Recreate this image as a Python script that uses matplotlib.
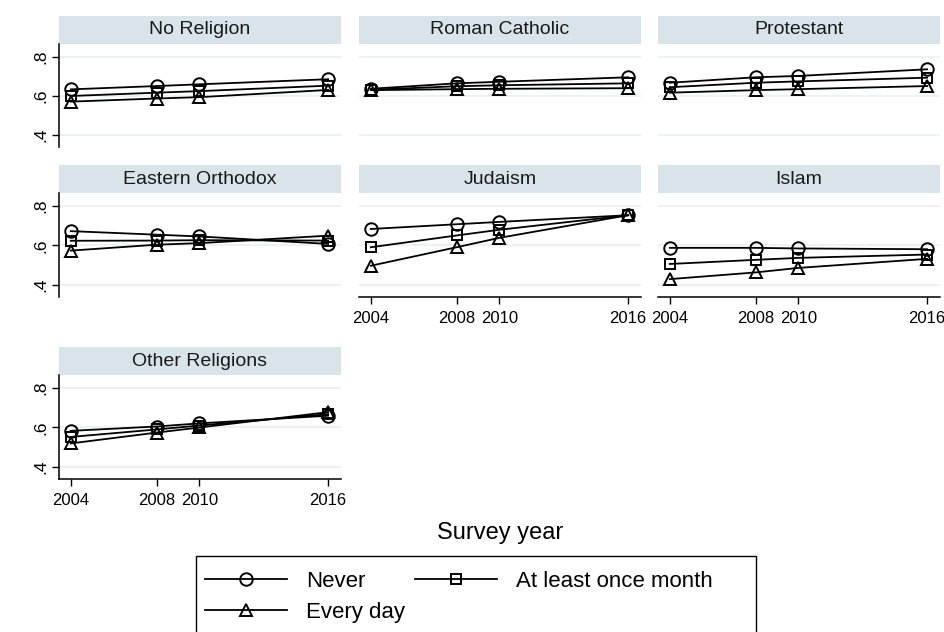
import matplotlib
matplotlib.use("Agg")
import matplotlib.pyplot as plt
from matplotlib.patches import Rectangle

plt.rcParams['font.family'] = ['Liberation Sans', 'DejaVu Sans']

# data
years = [2004, 2008, 2010, 2016]
religions = ["No Religion", "Roman Catholic", "Protestant",
             "Eastern Orthodox", "Judaism", "Islam", "Other Religions"]
series_names = ["Never", "At least once month", "Every day"]

never = {
    "No Religion":      [0.634, 0.651, 0.660, 0.686],
    "Roman Catholic":   [0.637, 0.665, 0.673, 0.696],
    "Protestant":       [0.668, 0.696, 0.703, 0.737],
    "Eastern Orthodox": [0.673, 0.655, 0.646, 0.608],
    "Judaism":          [0.684, 0.708, 0.720, 0.754],
    "Islam":            [0.588, 0.588, 0.585, 0.581],
    "Other Religions":  [0.583, 0.605, 0.621, 0.660],
}
month = {
    "No Religion":      [0.600, 0.617, 0.625, 0.653],
    "Roman Catholic":   [0.632, 0.650, 0.655, 0.665],
    "Protestant":       [0.645, 0.668, 0.675, 0.694],
    "Eastern Orthodox": [0.624, 0.625, 0.627, 0.625],
    "Judaism":          [0.591, 0.651, 0.680, 0.754],
    "Islam":            [0.506, 0.527, 0.537, 0.554],
    "Other Religions":  [0.552, 0.590, 0.610, 0.668],
}
every_day = {
    "No Religion":      [0.571, 0.587, 0.594, 0.631],
    "Roman Catholic":   [0.630, 0.635, 0.637, 0.640],
    "Protestant":       [0.617, 0.630, 0.635, 0.651],
    "Eastern Orthodox": [0.574, 0.604, 0.612, 0.650],
    "Judaism":          [0.497, 0.591, 0.639, 0.754],
    "Islam":            [0.429, 0.463, 0.486, 0.532],
    "Other Religions":  [0.519, 0.574, 0.600, 0.678],
}
yticks = [0.4, 0.6, 0.8]
ytick_labels = [".4", ".6", ".8"]

W, H = 944, 632
STRIP = '#d9e4ea'
GRID = '#eaf1f3'


def rect(x0, y0, x1, y1):
    return [x0 / W, 1 - y1 / H, (x1 - x0) / W, (y1 - y0) / H]


fig = plt.figure(figsize=(W / 100, H / 100), dpi=100)

col_x = [(59, 341), (359, 641), (658, 940)]
row_y = [(16, 44, 147), (165, 193, 297), (347, 375, 479)]

styles = [("o", 9), ("s", 7), ("^", 9)]
handles = []

for i, rel in enumerate(religions):
    r, c = divmod(i, 3)
    x0, x1 = col_x[c]
    s0, a0, a1 = row_y[r]

    # grey-blue header strip
    sax = fig.add_axes(rect(x0, s0, x1, a0))
    sax.set_facecolor(STRIP)
    sax.set_xticks([])
    sax.set_yticks([])
    for sp in sax.spines.values():
        sp.set_visible(False)
    sax.text(0.5, 0.5, rel, ha='center', va='center', fontsize=14, color='#1a1a1a',
             transform=sax.transAxes)

    ax = fig.add_axes(rect(x0, a0, x1, a1))
    ax.set_xlim(2003.45, 2016.6)
    ax.set_ylim(0.338, 0.867)
    for yv in yticks:
        ax.axhline(yv, color=GRID, lw=1.3, zorder=0)

    for vals, (mk, ms), name in zip([never[rel], month[rel], every_day[rel]], styles, series_names):
        h, = ax.plot(years, vals, color='black', lw=1.3, marker=mk, ms=ms,
                     mfc='none', mec='black', mew=1.4, label=name, clip_on=False)
        if i == 0:
            handles.append(h)

    for sp in ['top', 'right']:
        ax.spines[sp].set_visible(False)

    # y axis only on the first column
    if c == 0:
        ax.spines['left'].set_linewidth(1.1)
        ax.set_yticks(yticks, labels=ytick_labels)
        ax.tick_params(axis='y', length=5, width=1.0, pad=3, labelsize=12.5,
                       labelrotation=90)
        for lab in ax.get_yticklabels():
            lab.set_va('center')
    else:
        ax.spines['left'].set_visible(False)
        ax.set_yticks([])

    # x axis only where nothing sits below
    if i >= 4:
        ax.spines['bottom'].set_linewidth(1.1)
        ax.set_xticks(years, labels=[str(y) for y in years])
        ax.tick_params(axis='x', length=5, width=1.0, pad=5, labelsize=12)
    else:
        ax.spines['bottom'].set_visible(False)
        ax.set_xticks([])

fig.text(500 / W, 1 - 533 / H, "Survey year", ha='center', va='center', fontsize=17)

# legend box (runs off the bottom edge like the original)
fig.add_artist(Rectangle((196 / W, 1 - 645 / H), (756 - 196) / W, (645 - 556) / H,
                         transform=fig.transFigure, fill=False, ec='black', lw=1.0))

leg_handles = [handles[0], handles[2], handles[1]]
leg_labels = [series_names[0], series_names[2], series_names[1]]
leg = fig.legend(leg_handles, leg_labels, loc='upper left', ncol=2,
                 bbox_to_anchor=(205 / W, 1 - 571 / H), frameon=False,
                 fontsize=16, handlelength=3.7, handletextpad=0.85,
                 columnspacing=0.45, borderpad=0, labelspacing=0.45,
                 borderaxespad=0)

plt.savefig("out.png", dpi=100)
plt.close()
